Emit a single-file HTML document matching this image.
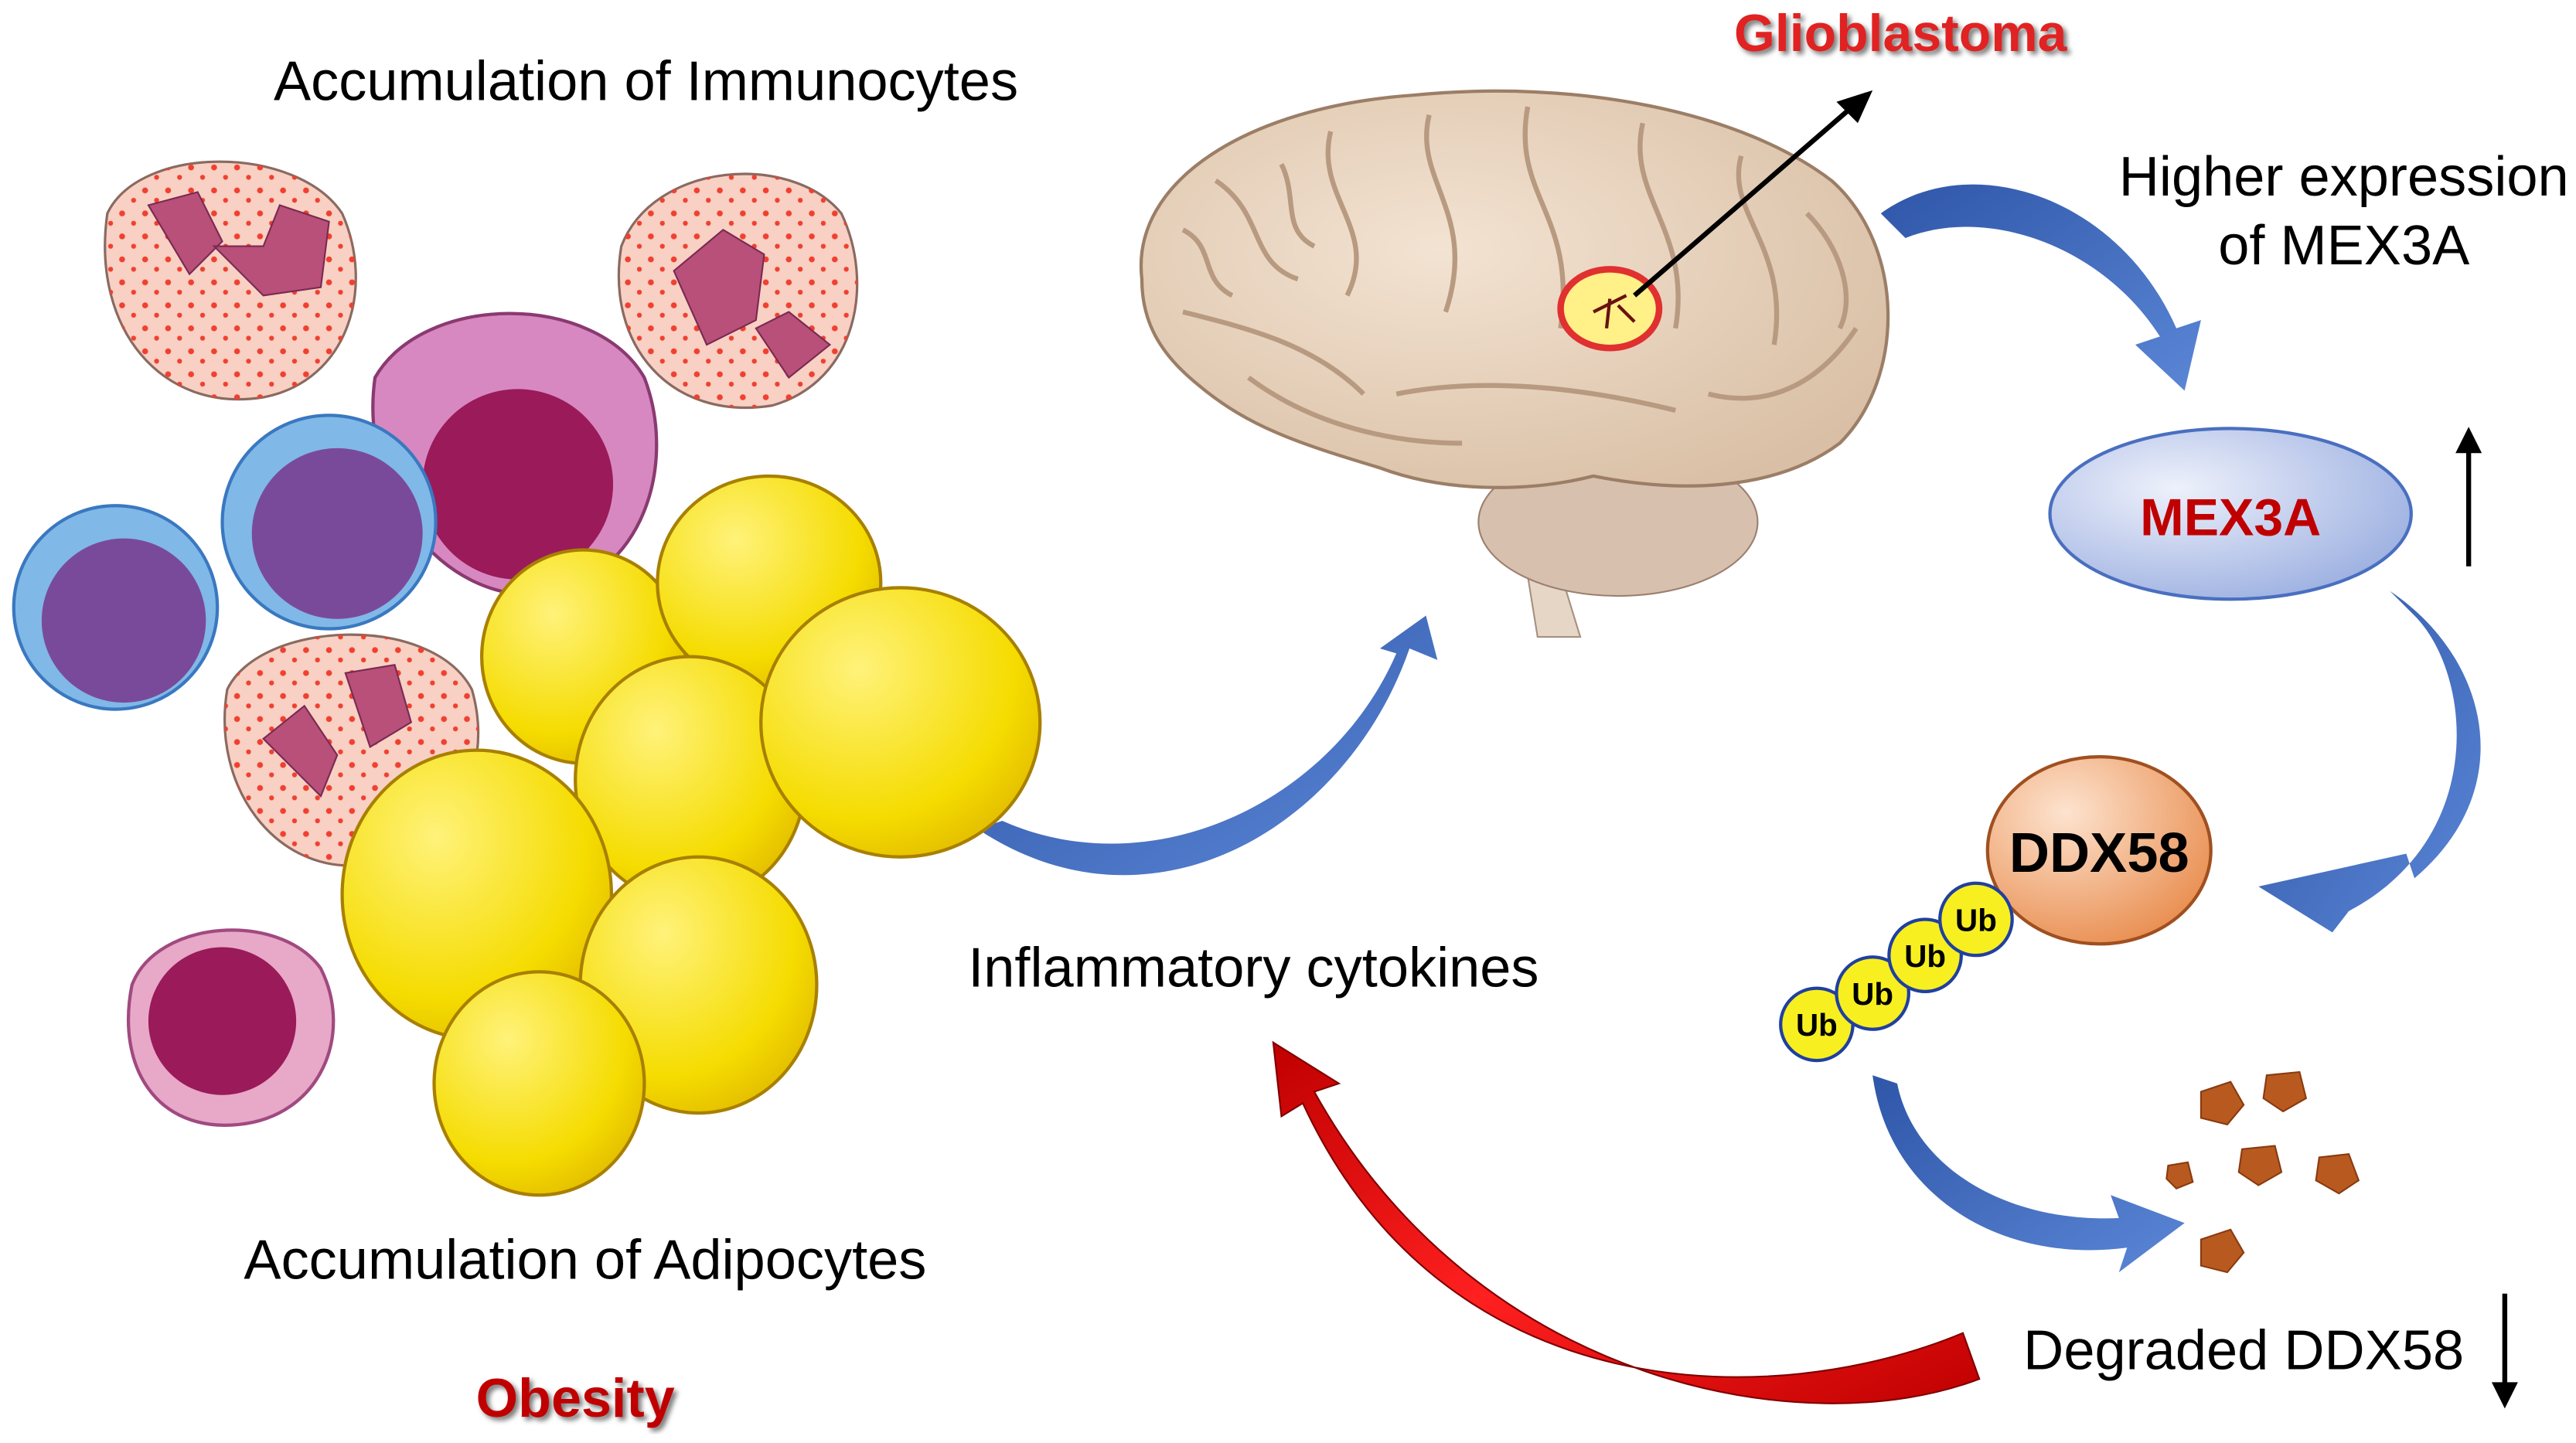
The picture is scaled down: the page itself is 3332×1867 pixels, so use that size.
<!DOCTYPE html>
<html><head><meta charset="utf-8"><style>
html,body{margin:0;padding:0;background:#fff;}
svg{display:block;}
text{font-family:"Liberation Sans",Arial,sans-serif;}
</style></head><body>
<svg width="3332" height="1867" viewBox="0 0 1568 879" xmlns="http://www.w3.org/2000/svg">
<defs>
<radialGradient id="mex" cx="0.35" cy="0.35" r="0.75"><stop offset="0" stop-color="#eef1fb"/><stop offset="1" stop-color="#9aaee0"/></radialGradient>
<radialGradient id="ddx" cx="0.35" cy="0.3" r="0.8"><stop offset="0" stop-color="#fde3cf"/><stop offset="1" stop-color="#e88a4a"/></radialGradient>
<radialGradient id="fat" cx="0.35" cy="0.3" r="0.8"><stop offset="0" stop-color="#fff27a"/><stop offset="0.7" stop-color="#f5dc00"/><stop offset="1" stop-color="#e0b800"/></radialGradient>
<radialGradient id="brain" cx="0.4" cy="0.4" r="0.7"><stop offset="0" stop-color="#f3e3d2"/><stop offset="1" stop-color="#d9bfa5"/></radialGradient>
<linearGradient id="blue" x1="0" y1="0" x2="1" y2="1"><stop offset="0" stop-color="#2f56a8"/><stop offset="1" stop-color="#5b86d6"/></linearGradient>
<linearGradient id="red" x1="1" y1="1" x2="0" y2="0"><stop offset="0" stop-color="#c00000"/><stop offset="0.5" stop-color="#ff2020"/><stop offset="1" stop-color="#c00000"/></linearGradient>
<filter id="sh"><feDropShadow dx="2" dy="2" stdDeviation="1.5" flood-color="#777"/></filter>
<pattern id="dots" width="14" height="14" patternUnits="userSpaceOnUse"><circle cx="4" cy="4" r="1.8" fill="#f04030"/><circle cx="11" cy="10" r="1.5" fill="#f04030"/></pattern>
</defs>

<text x="393" y="61" font-size="34" text-anchor="middle">Accumulation of Immunocytes</text>
<text x="1157" y="31" font-size="32" font-weight="bold" fill="#e02020" text-anchor="middle" filter="url(#sh)">Glioblastoma</text>
<text x="1427" y="119" font-size="34" text-anchor="middle">Higher expression</text>
<text x="1427" y="161" font-size="34" text-anchor="middle">of MEX3A</text>
<text x="763" y="601" font-size="34" text-anchor="middle">Inflammatory cytokines</text>
<text x="356" y="779" font-size="34" text-anchor="middle">Accumulation of Adipocytes</text>
<text x="350" y="863" font-size="33" font-weight="bold" fill="#c00000" text-anchor="middle" filter="url(#sh)">Obesity</text>
<text x="1366" y="834" font-size="34" text-anchor="middle">Degraded DDX58</text>

<!-- brain -->
<path d="M935,300 L962,388 L936,388 L925,320 Z" fill="#e6d6c6" stroke="#a89080"/>
<ellipse cx="985" cy="318" rx="85" ry="45" fill="#d8c0ae" stroke="#9c8070"/>
<path d="M695,170 C688,110 760,65 860,58 C960,48 1060,68 1115,110 C1160,150 1160,230 1120,270 C1080,300 1020,300 970,290 C930,300 880,300 840,285 C790,270 760,260 730,235 C705,215 695,195 695,170 Z" fill="url(#brain)" stroke="#9c7e66" stroke-width="2"/>
<g fill="none" stroke="#b89a80" stroke-width="3">
<path d="M740,110 C770,130 760,160 790,170 M810,80 C800,120 840,140 820,180 M870,70 C860,110 900,130 880,190 M930,65 C920,120 960,130 950,200 M1000,75 C990,120 1030,140 1020,200 M1060,95 C1050,130 1090,150 1080,210 M720,190 C760,200 800,210 830,240 M850,240 C900,230 960,235 1020,250 M1040,240 C1080,250 1110,230 1130,200 M760,230 C800,260 850,270 890,270 M720,140 C740,150 730,170 750,180 M1100,130 C1120,150 1130,180 1120,200 M780,100 C790,120 780,140 800,150"/>
</g>
<ellipse cx="980" cy="188" rx="30" ry="24" fill="#fff088" stroke="#e03030" stroke-width="4"/>
<path d="M970,190 L990,180 M980,182 L978,200 M985,186 L995,196" stroke="#6a1010" stroke-width="2"/>
<line x1="995" y1="180" x2="1130" y2="63" stroke="#000" stroke-width="3"/>
<path d="M1140,55 L1118,62 L1131,75 Z" fill="#000"/>

<!-- MEX3A -->
<ellipse cx="1358" cy="313" rx="110" ry="52" fill="url(#mex)" stroke="#4a6fc0" stroke-width="2"/>
<text x="1358" y="326" font-size="32" font-weight="bold" fill="#c00000" text-anchor="middle">MEX3A</text>
<line x1="1503" y1="345" x2="1503" y2="272" stroke="#000" stroke-width="3"/>
<path d="M1503,260 L1495,276 L1511,276 Z" fill="#000"/>

<!-- DDX58 -->
<ellipse cx="1278" cy="518" rx="68" ry="57" fill="url(#ddx)" stroke="#a05020" stroke-width="2"/>
<text x="1278" y="531" font-size="34" font-weight="bold" text-anchor="middle">DDX58</text>
<g fill="#f8ef20" stroke="#2040a0" stroke-width="2">
<circle cx="1106" cy="624" r="22"/><circle cx="1140" cy="605" r="22"/><circle cx="1172" cy="582" r="22"/><circle cx="1203" cy="560" r="22"/>
</g>
<g font-size="19" font-weight="bold" text-anchor="middle">
<text x="1106" y="631">Ub</text><text x="1140" y="612">Ub</text><text x="1172" y="589">Ub</text><text x="1203" y="567">Ub</text>
</g>

<g fill="#b85a20" stroke="#8a3a10">
<path d="M1340,665 l18,-6 8,14 -10,12 -16,-4 z"/><path d="M1380,655 l20,-2 4,16 -14,8 -12,-8 z"/>
<path d="M1365,700 l20,-2 4,16 -14,8 -12,-8 z"/><path d="M1412,705 l18,-2 6,16 -12,8 -14,-8 z"/>
<path d="M1340,755 l18,-6 8,14 -10,12 -16,-4 z"/><path d="M1320,710 l12,-2 3,12 -10,4 -6,-6 z"/>
</g>
<line x1="1525" y1="788" x2="1525" y2="845" stroke="#000" stroke-width="3"/>
<path d="M1525,858 L1517,842 L1533,842 Z" fill="#000"/>

<g fill="url(#blue)">
<path d="M1145,130 C1200,90 1290,120 1325,200 L1340,195 L1330,238 L1300,210 L1315,205 C1280,150 1210,125 1160,145 Z"/>
<path d="M1455,360 C1515,400 1535,480 1470,535 L1465,520 L1375,540 L1420,568 L1430,555 C1515,510 1505,410 1470,375 Z"/>
<path d="M1140,655 C1150,730 1220,770 1295,760 L1290,775 L1330,745 L1285,728 L1290,742 C1220,745 1165,710 1155,660 Z"/>
<path d="M595,505 C700,575 820,505 858,395 L875,402 L868,375 L840,395 L850,398 C810,490 700,540 610,500 Z"/>
</g>
<path d="M1205,840 C1100,880 900,845 800,665 L815,660 L775,635 L780,680 L793,672 C880,860 1080,860 1195,812 Z" fill="url(#red)" stroke="#800000" stroke-width="1"/>

<!-- immune cells -->
<g stroke="#8a6a60" stroke-width="1.5">
<path d="M65,130 C85,88 180,88 208,130 C228,175 212,232 160,242 C98,252 55,200 65,130 Z" fill="#f8d0c4"/>
<path d="M378,150 C398,98 482,93 512,130 C532,172 522,232 470,247 C408,257 368,210 378,150 Z" fill="#f8d0c4"/>
<path d="M138,420 C158,378 262,373 287,420 C302,472 272,522 220,527 C168,532 128,480 138,420 Z" fill="#f8d0c4"/>
<path d="M65,130 C85,88 180,88 208,130 C228,175 212,232 160,242 C98,252 55,200 65,130 Z" fill="url(#dots)" stroke="none"/>
<path d="M378,150 C398,98 482,93 512,130 C532,172 522,232 470,247 C408,257 368,210 378,150 Z" fill="url(#dots)" stroke="none"/>
<path d="M138,420 C158,378 262,373 287,420 C302,472 272,522 220,527 C168,532 128,480 138,420 Z" fill="url(#dots)" stroke="none"/>
</g>
<g fill="#b8507a" stroke="#7a2a50">
<path d="M90,125 l30,-8 15,30 -20,20 z M130,150 l30,0 10,-25 30,10 -5,40 -35,5 z"/>
<path d="M410,165 l30,-25 25,15 -5,40 -30,15 z M460,200 l20,-10 25,20 -25,20 z"/>
<path d="M160,450 l25,-20 20,30 -10,25 z M210,410 l30,-5 10,35 -25,15 z"/>
</g>
<path d="M228,230 C258,178 362,178 392,230 C412,282 392,352 330,362 C268,367 218,300 228,230 Z" fill="#d888c0" stroke="#8a3a70" stroke-width="2"/>
<circle cx="315" cy="295" r="58" fill="#9a1a5a"/>
<circle cx="70" cy="370" r="62" fill="#80b8e8" stroke="#3a78c0" stroke-width="2"/>
<circle cx="75" cy="378" r="50" fill="#7a4a9a"/>
<circle cx="200" cy="318" r="65" fill="#80b8e8" stroke="#3a78c0" stroke-width="2"/>
<circle cx="205" cy="325" r="52" fill="#7a4a9a"/>
<path d="M80,600 C95,560 170,555 195,590 C215,630 195,680 145,685 C95,690 70,650 80,600 Z" fill="#e8a8c8" stroke="#a04a80" stroke-width="2"/>
<circle cx="135" cy="622" r="45" fill="#9a1a5a"/>

<!-- adipocytes -->
<g fill="url(#fat)" stroke="#a88000" stroke-width="2">
<ellipse cx="355" cy="400" rx="62" ry="65"/>
<ellipse cx="468" cy="355" rx="68" ry="65"/>
<ellipse cx="420" cy="475" rx="70" ry="75"/>
<ellipse cx="548" cy="440" rx="85" ry="82"/>
<ellipse cx="290" cy="545" rx="82" ry="88"/>
<ellipse cx="425" cy="600" rx="72" ry="78"/>
<ellipse cx="328" cy="660" rx="64" ry="68"/>
</g>
</svg>
</body></html>
